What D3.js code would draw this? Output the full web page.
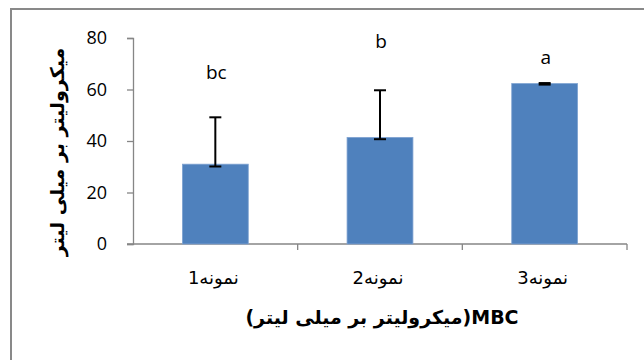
<!DOCTYPE html>
<html>
<head>
<meta charset="utf-8">
<script src="https://cdnjs.cloudflare.com/ajax/libs/d3/7.8.5/d3.min.js"></script>
<style>
  html, body { margin: 0; padding: 0; background: #fff; }
  svg { display: block; }
</style>
</head>
<body>
<svg id="chart" width="644" height="360"></svg>
<script>
// Sample categories and their mean MBC values with asymmetric error limits
const categories = ["نمونه1", "نمونه2", "نمونه3"];
const means = [31.0, 41.4, 62.3];
const errLow = [30.1, 40.7, 61.9];
const errHigh = [49.2, 59.7, 62.5];
const groupLetters = ["bc", "b", "a"];
const letterValues = [66, 78, 72];
const yTicks = [0, 20, 40, 60, 80];
const yTitle = "میکرولیتر بر میلی لیتر";
const xTitle = "MBC(میکرولیتر بر میلی لیتر)";

const svg = d3.select("#chart");

// chart area frame
svg.append("rect")
  .attr("x", 11).attr("y", 9)
  .attr("width", 700).attr("height", 400)
  .attr("fill", "#fff")
  .attr("stroke", "#898989").attr("stroke-width", 2);

const plot = { left: 133, right: 627, top: 38, bottom: 244 };

const x = d3.scaleBand()
  .domain(categories)
  .range([plot.left, plot.right])
  .paddingInner(0.6)
  .paddingOuter(0.3);

const xOuter = d3.scaleBand()
  .domain(categories)
  .range([plot.left, plot.right]);

const y = d3.scaleLinear().domain([0, 80]).range([plot.bottom, plot.top]);

const axisColor = "#868686";

// y axis
const yAxis = svg.append("g")
  .attr("transform", `translate(${plot.left},0)`)
  .call(d3.axisLeft(y).tickValues(yTicks).tickSize(6).tickPadding(20));
yAxis.select(".domain").attr("stroke", axisColor).attr("stroke-width", 1.3);
yAxis.selectAll(".tick line").attr("stroke", axisColor).attr("stroke-width", 1.3);
yAxis.selectAll(".tick text")
  .attr("fill", "#000")
  .style("font-family", "'Open Sans', sans-serif")
  .style("font-size", "18px");

// x axis: line plus category separator ticks
const xAxisG = svg.append("g");
xAxisG.append("line")
  .attr("x1", plot.left - 6).attr("x2", plot.right)
  .attr("y1", y(0)).attr("y2", y(0))
  .attr("stroke", axisColor).attr("stroke-width", 1.3);
const sepPositions = categories.map(c => xOuter(c)).concat([plot.right]).slice(1);
xAxisG.selectAll("line.sep")
  .data(sepPositions)
  .join("line")
  .attr("class", "sep")
  .attr("x1", d => d).attr("x2", d => d)
  .attr("y1", y(0)).attr("y2", y(0) + 6)
  .attr("stroke", axisColor).attr("stroke-width", 1.3);

xAxisG.selectAll("text.cat")
  .data(categories)
  .join("text")
  .attr("class", "cat")
  .attr("x", d => xOuter(d) + xOuter.bandwidth() / 2 - 2)
  .attr("y", y(0) + 40)
  .attr("text-anchor", "middle")
  .style("font-family", "'DejaVu Sans', sans-serif")
  .style("font-size", "18px")
  .style("letter-spacing", "1px")
  .attr("fill", "#000")
  .text(d => d);

// bars
svg.selectAll("rect.bar")
  .data(means)
  .join("rect")
  .attr("class", "bar")
  .attr("x", (d, i) => x(categories[i]))
  .attr("y", d => y(d))
  .attr("width", x.bandwidth())
  .attr("height", d => y(0) - y(d))
  .attr("fill", "#4F81BD")
  .attr("stroke", "#7FA3D1")
  .attr("stroke-width", 0.8);

// error bars
const eb = svg.append("g").attr("stroke", "#000").attr("stroke-width", 2);
categories.forEach((c, i) => {
  const cx = x(c) + x.bandwidth() / 2;
  eb.append("line").attr("x1", cx).attr("x2", cx)
    .attr("y1", y(errLow[i])).attr("y2", y(errHigh[i]));
  [errLow[i], errHigh[i]].forEach(v => {
    eb.append("line").attr("x1", cx - 6).attr("x2", cx + 6)
      .attr("y1", y(v)).attr("y2", y(v));
  });
});

// significance letters
svg.selectAll("text.letter")
  .data(groupLetters)
  .join("text")
  .attr("class", "letter")
  .attr("x", (d, i) => x(categories[i]) + x.bandwidth() / 2 + 1)
  .attr("y", (d, i) => y(letterValues[i]))
  .attr("text-anchor", "middle")
  .attr("dominant-baseline", "middle")
  .style("font-family", "'Open Sans', sans-serif")
  .style("font-size", "19px")
  .attr("fill", "#000")
  .text(d => d);

// axis titles
svg.append("text")
  .attr("transform", "translate(58,152) rotate(-90)")
  .attr("text-anchor", "middle")
  .attr("dominant-baseline", "middle")
  .style("font-family", "'DejaVu Sans', sans-serif")
  .style("font-weight", "bold")
  .style("font-size", "19px")
  .attr("fill", "#000")
  .text(yTitle);

// x title laid out right-to-left, so the Latin prefix sits at the right end
svg.append("text")
  .attr("x", 382)
  .attr("y", 318)
  .attr("direction", "rtl")
  .attr("text-anchor", "middle")
  .attr("dominant-baseline", "middle")
  .style("direction", "rtl")
  .style("unicode-bidi", "embed")
  .style("font-family", "'DejaVu Sans', sans-serif")
  .style("font-weight", "bold")
  .style("font-size", "19px")
  .attr("fill", "#000")
  .text(xTitle);
</script>
</body>
</html>
